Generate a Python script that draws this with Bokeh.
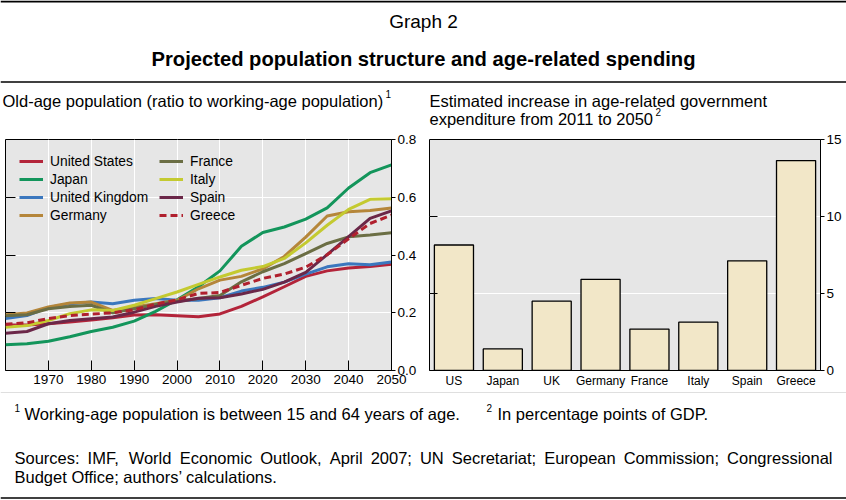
from bokeh.plotting import figure
from bokeh.layouts import column, row
from bokeh.models import (Range1d, FactorRange, LinearAxis, FixedTicker, PrintfTickFormatter,
                          Legend, LegendItem, Label, Span, CustomLabelingPolicy)
from bokeh.embed import file_html
from bokeh.resources import INLINE

FONT = "Liberation Sans"

# ---------------- data ----------------
years = [1960, 1965, 1970, 1975, 1980, 1985, 1990, 1995, 2000, 2005,
         2010, 2015, 2020, 2025, 2030, 2035, 2040, 2045, 2050]
united_states = [0.158, 0.158, 0.162, 0.168, 0.175, 0.183, 0.192, 0.193, 0.190, 0.186,
                 0.196, 0.222, 0.255, 0.290, 0.326, 0.345, 0.355, 0.360, 0.368]
japan = [0.089, 0.093, 0.101, 0.117, 0.135, 0.150, 0.171, 0.205, 0.245, 0.290,
         0.345, 0.430, 0.478, 0.497, 0.524, 0.563, 0.632, 0.685, 0.712]
united_kingdom = [0.180, 0.190, 0.218, 0.231, 0.237, 0.231, 0.243, 0.249, 0.243, 0.243,
                  0.252, 0.275, 0.288, 0.306, 0.334, 0.359, 0.370, 0.366, 0.376]
germany = [0.193, 0.199, 0.220, 0.234, 0.237, 0.208, 0.220, 0.231, 0.243, 0.283,
           0.313, 0.326, 0.352, 0.395, 0.462, 0.535, 0.550, 0.554, 0.563]
france = [0.190, 0.193, 0.214, 0.222, 0.226, 0.200, 0.214, 0.229, 0.240, 0.249,
          0.260, 0.307, 0.342, 0.370, 0.405, 0.440, 0.463, 0.469, 0.477]
italy = [0.150, 0.156, 0.173, 0.197, 0.210, 0.208, 0.226, 0.249, 0.272, 0.298,
         0.324, 0.347, 0.360, 0.388, 0.442, 0.503, 0.558, 0.593, 0.595]
spain = [0.129, 0.135, 0.162, 0.173, 0.179, 0.185, 0.202, 0.222, 0.237, 0.250,
         0.252, 0.265, 0.281, 0.306, 0.340, 0.401, 0.464, 0.527, 0.553]
greece = [0.160, 0.165, 0.180, 0.190, 0.195, 0.200, 0.210, 0.230, 0.245, 0.267,
          0.270, 0.295, 0.319, 0.334, 0.358, 0.401, 0.456, 0.509, 0.538]

year_ticks = [1970, 1980, 1990, 2000, 2010, 2020, 2030, 2040, 2050]
ratio_ticks = [0.0, 0.2, 0.4, 0.6, 0.8]

bar_categories = ["US", "Japan", "UK", "Germany", "France", "Italy", "Spain", "Greece"]
bar_values = [8.15, 1.40, 4.50, 5.92, 2.69, 3.14, 7.12, 13.63]
spend_ticks = [0, 5, 10, 15]

title_text = "Projected population structure and age-related spending"
graph_label = "Graph 2"
left_subtitle = "Old-age population (ratio to working-age population)"
right_subtitle_1 = "Estimated increase in age-related government"
right_subtitle_2 = "expenditure from 2011 to 2050"
note_1 = "Working-age population is between 15 and 64 years of age."
note_2 = "In percentage points of GDP."
sources_1 = "Sources: IMF, World Economic Outlook, April 2007; UN Secretariat; European Commission; Congressional"
sources_2 = "Budget Office; authors\u2019 calculations."

BG = "#E6E6E6"
HEAD_H = 130
MID_H = 262
FOOT_TOP = 392

# ---------------- header ----------------
h = figure(width=846, height=HEAD_H, x_range=Range1d(0, 846), y_range=Range1d(HEAD_H, 0),
           min_border=0, toolbar_location=None, output_backend="svg",
           x_axis_location=None, y_axis_location=None)
h.grid.visible = False
h.outline_line_color = None
h.add_layout(Span(location=1, dimension="width", line_color="black", line_width=2))
h.add_layout(Span(location=81.5, dimension="width", line_color="black", line_width=1.5))

def lab(fig, x, y, text, size, align="left", bold=False):
    fig.add_layout(Label(x=x, y=y, text=text, text_align=align, text_baseline="middle",
                         text_font=FONT, text_font_size=size, text_color="black",
                         text_font_style="bold" if bold else "normal"))

lab(h, 423, 21, graph_label, "19px", "center")
lab(h, 423, 58, title_text, "20.2px", "center", bold=True)
lab(h, 2, 100, left_subtitle, "16.5px")
lab(h, 385, 93, "1", "10px")
lab(h, 429, 100, right_subtitle_1, "16.5px")
lab(h, 429, 118, right_subtitle_2, "16.5px")
lab(h, 655, 111, "2", "10px")

# inner tick marks only: labels are not drawn and take no room
no_labels = CustomLabelingPolicy(code="for (const i of indices) { if (i < 0) yield i }")

# ---------------- left chart ----------------
p = figure(width=423, height=MID_H, x_range=Range1d(1960, 2050), y_range=Range1d(0, 0.8),
           toolbar_location=None, output_backend="svg", y_axis_location="right",
           min_border_left=5, min_border_right=32, min_border_top=9, min_border_bottom=22)
p.background_fill_color = BG
p.border_fill_color = "white"
p.outline_line_color = "black"
p.outline_line_width = 1

xa = p.xaxis[0]
xa.ticker = FixedTicker(ticks=year_ticks)
xa.major_tick_in = 10
xa.major_tick_out = 0
xa.minor_tick_line_color = None
xa.axis_line_color = "black"
xa.major_label_standoff = 4
xa.major_label_text_font = FONT
xa.major_label_text_font_size = "13.5px"
xa.major_label_text_color = "black"

ya = p.yaxis[0]
ya.ticker = FixedTicker(ticks=ratio_ticks)
ya.formatter = PrintfTickFormatter(format="%.1f")
ya.major_tick_in = 0
ya.major_tick_out = 4
ya.minor_tick_line_color = None
ya.axis_line_color = "black"
ya.major_label_standoff = 2
ya.major_label_text_font = FONT
ya.major_label_text_font_size = "13.5px"
ya.major_label_text_color = "black"

ly = LinearAxis(ticker=FixedTicker(ticks=[0.2, 0.4, 0.6]), major_tick_in=10, major_tick_out=0,
                minor_tick_line_color=None, axis_line_color=None,
                major_label_policy=no_labels, major_label_text_font_size="0px",
                major_label_standoff=0, axis_label_standoff=0)
p.add_layout(ly, "left")

p.xgrid.ticker = FixedTicker(ticks=year_ticks[:-1])
p.ygrid.ticker = FixedTicker(ticks=[0.2, 0.4, 0.6])
p.xgrid.grid_line_color = "white"
p.ygrid.grid_line_color = "white"
p.xgrid.grid_line_width = 1
p.ygrid.grid_line_width = 1

series = [
    ("United States", united_states, "#B3243A", "solid"),
    ("Japan", japan, "#13955B", "solid"),
    ("United Kingdom", united_kingdom, "#3B77BE", "solid"),
    ("Germany", germany, "#B5863A", "solid"),
    ("France", france, "#6B6E44", "solid"),
    ("Italy", italy, "#C4CA30", "solid"),
    ("Spain", spain, "#6B2748", "solid"),
    ("Greece", greece, "#B0202E", "7 4"),
]
renderers = {}
for name, vals, col, dash in series:
    r = p.line(years, vals, line_color=col, line_width=3, line_dash=dash, line_join="round")
    renderers[name] = r

def make_legend(names, loc):
    lg = Legend(items=[LegendItem(label=n, renderers=[renderers[n]]) for n in names],
                location=loc, orientation="vertical", padding=0, margin=0, spacing=0,
                glyph_width=24, glyph_height=18, label_height=18, label_standoff=7,
                label_text_font=FONT, label_text_font_size="13.8px", label_text_color="black",
                background_fill_alpha=0, border_line_alpha=0)
    p.add_layout(lg)

make_legend(["United States", "Japan", "United Kingdom", "Germany"], (14, 146))
make_legend(["France", "Italy", "Spain", "Greece"], (154, 146))

# ---------------- right chart ----------------
q = figure(width=423, height=MID_H, x_range=FactorRange(factors=bar_categories, range_padding=0),
           y_range=Range1d(0, 15), toolbar_location=None, output_backend="svg",
           y_axis_location="right",
           min_border_left=6, min_border_right=26, min_border_top=9, min_border_bottom=20)
q.background_fill_color = BG
q.border_fill_color = "white"
q.outline_line_color = "black"
q.vbar(x=bar_categories, top=bar_values, width=0.8, bottom=0,
       fill_color="#F2E7C8", line_color="black", line_width=1.3)

qx = q.xaxis[0]
qx.major_tick_in = 0
qx.major_tick_out = 0
qx.axis_line_color = "black"
qx.major_label_standoff = 3
qx.major_label_text_font = FONT
qx.major_label_text_font_size = "12px"
qx.major_label_text_color = "black"

qy = q.yaxis[0]
qy.ticker = FixedTicker(ticks=spend_ticks)
qy.major_tick_in = 0
qy.major_tick_out = 4
qy.minor_tick_line_color = None
qy.axis_line_color = "black"
qy.major_label_standoff = 2
qy.major_label_text_font = FONT
qy.major_label_text_font_size = "13.5px"
qy.major_label_text_color = "black"

qly = LinearAxis(ticker=FixedTicker(ticks=[5, 10]), major_tick_in=8, major_tick_out=0,
                 minor_tick_line_color=None, axis_line_color=None,
                 major_label_policy=no_labels, major_label_text_font_size="0px",
                 major_label_standoff=0, axis_label_standoff=0)
q.add_layout(qly, "left")

q.xgrid.grid_line_color = None
q.ygrid.ticker = FixedTicker(ticks=[5, 10])
q.ygrid.grid_line_color = "white"
q.ygrid.grid_line_width = 1

# ---------------- footer ----------------
f = figure(width=846, height=500 - FOOT_TOP, x_range=Range1d(0, 846), y_range=Range1d(500, FOOT_TOP),
           min_border=0, toolbar_location=None, output_backend="svg",
           x_axis_location=None, y_axis_location=None)
f.grid.visible = False
f.outline_line_color = None
f.add_layout(Span(location=391, dimension="width", line_color="black", line_width=1.5))
f.add_layout(Span(location=497.5, dimension="width", line_color="black", line_width=1.5))

lab(f, 14, 407, "1", "10px")
lab(f, 24, 413, note_1, "16.5px")
lab(f, 486, 407, "2", "10px")
lab(f, 497, 413, note_2, "16.5px")

# justified first sources line (Liberation Sans shares Arial metrics)
CW = {"S": .667, "o": .556, "u": .556, "r": .333, "c": .5, "e": .556, "s": .5, ":": .278,
      "I": .278, "M": .833, "F": .611, ",": .278, "W": .944, "l": .222, "d": .556, "E": .667,
      "n": .556, "m": .833, "i": .222, "O": .778, "t": .278, "k": .5, "A": .667, "p": .556,
      "2": .556, "0": .556, "7": .556, ";": .278, "U": .722, "N": .722, "a": .556, "C": .722,
      "g": .556}
FS = 16.5
words = sources_1.split(" ")
widths = [sum(CW.get(ch, .556) for ch in w) * FS for w in words]
left_x, right_x = 14, 832
gap = (right_x - left_x - sum(widths)) / (len(words) - 1)
xx = left_x
for w, wd in zip(words, widths):
    lab(f, xx, 457, w, "16.5px")
    xx += wd + gap
lab(f, 14, 476, sources_2, "16.5px")

layout = column(h, row(p, q), f)
open("out.html", "w").write(file_html(layout, INLINE))
